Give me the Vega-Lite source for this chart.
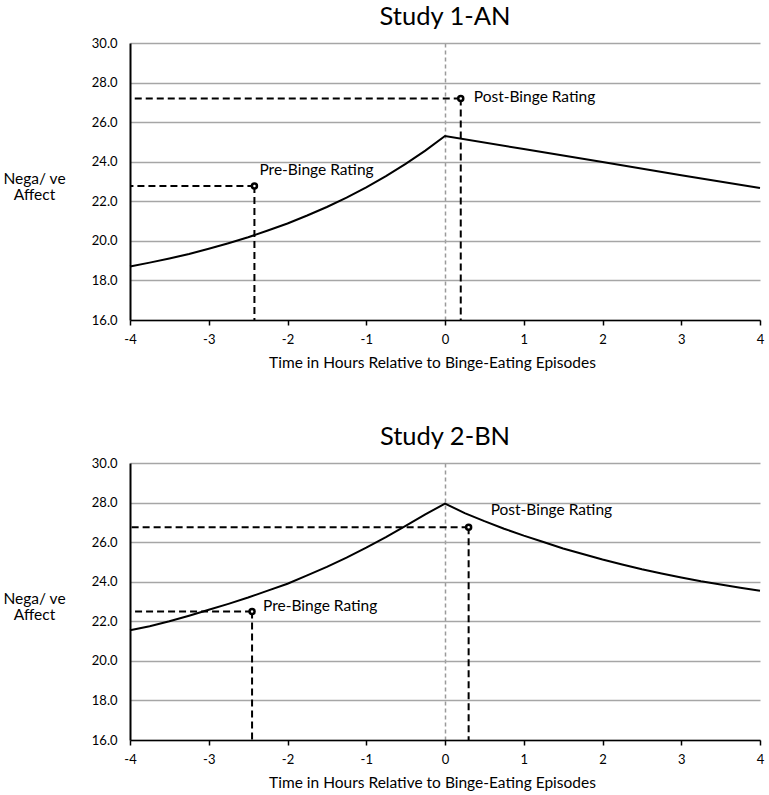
{
  "$schema": "https://vega.github.io/schema/vega-lite/v6.json",
  "padding": {"left": 2, "top": 4, "right": 5, "bottom": 5},
  "background": "white",
  "config": {
    "font": "Lato",
    "view": {"stroke": null},
    "title": {"font": "Lato", "fontSize": 25.5, "fontWeight": "normal", "color": "black", "offset": 7},
    "axisX": {
      "grid": true, "gridColor": "#9a9a9a", "gridDash": [4, 3], "gridWidth": 1.5,
      "domainColor": "black", "domainWidth": 1.5, "tickColor": "black", "tickWidth": 1.5,
      "tickSize": 5, "labelPadding": 8, "labelFontSize": 13, "labelColor": "black", "labelFlush": false,
      "titleFontSize": 15.5, "titleFontWeight": "normal", "titleColor": "black", "titlePadding": 9, "titleX": 302
    },
    "axisY": {
      "grid": true, "gridColor": "#a6a6a6", "gridWidth": 1.5, "domainColor": "black", "domainWidth": 2,
      "ticks": false, "labelPadding": 13, "labelFontSize": 13, "labelColor": "black", "labelOverlap": false,
      "titleAngle": 0, "titleX": -96, "titleY": 135, "titleAlign": "center", "titleBaseline": "middle",
      "titleFontSize": 15.5, "titleFontWeight": "normal", "titleColor": "black", "titleLineHeight": 16.5
    }
  },
  "datasets": {
    "curve": [
      {"panel": "AN", "time": -4, "affect": 18.70},
      {"panel": "AN", "time": -3.75, "affect": 18.90},
      {"panel": "AN", "time": -3.5, "affect": 19.11},
      {"panel": "AN", "time": -3.25, "affect": 19.34},
      {"panel": "AN", "time": -3, "affect": 19.60},
      {"panel": "AN", "time": -2.75, "affect": 19.88},
      {"panel": "AN", "time": -2.5, "affect": 20.18},
      {"panel": "AN", "time": -2.25, "affect": 20.52},
      {"panel": "AN", "time": -2, "affect": 20.88},
      {"panel": "AN", "time": -1.75, "affect": 21.28},
      {"panel": "AN", "time": -1.5, "affect": 21.71},
      {"panel": "AN", "time": -1.25, "affect": 22.18},
      {"panel": "AN", "time": -1, "affect": 22.70},
      {"panel": "AN", "time": -0.75, "affect": 23.27},
      {"panel": "AN", "time": -0.5, "affect": 23.89},
      {"panel": "AN", "time": -0.25, "affect": 24.56},
      {"panel": "AN", "time": 0, "affect": 25.30},
      {"panel": "AN", "time": 1, "affect": 24.64},
      {"panel": "AN", "time": 2, "affect": 23.98},
      {"panel": "AN", "time": 3, "affect": 23.32},
      {"panel": "AN", "time": 4, "affect": 22.67},
      {"panel": "BN", "time": -4, "affect": 21.55},
      {"panel": "BN", "time": -3.75, "affect": 21.75},
      {"panel": "BN", "time": -3.5, "affect": 22.00},
      {"panel": "BN", "time": -3.25, "affect": 22.28},
      {"panel": "BN", "time": -3, "affect": 22.58},
      {"panel": "BN", "time": -2.75, "affect": 22.88},
      {"panel": "BN", "time": -2.5, "affect": 23.20},
      {"panel": "BN", "time": -2.25, "affect": 23.55},
      {"panel": "BN", "time": -2, "affect": 23.90},
      {"panel": "BN", "time": -1.75, "affect": 24.32},
      {"panel": "BN", "time": -1.5, "affect": 24.75},
      {"panel": "BN", "time": -1.25, "affect": 25.22},
      {"panel": "BN", "time": -1, "affect": 25.72},
      {"panel": "BN", "time": -0.75, "affect": 26.25},
      {"panel": "BN", "time": -0.5, "affect": 26.82},
      {"panel": "BN", "time": -0.25, "affect": 27.40},
      {"panel": "BN", "time": 0, "affect": 27.95},
      {"panel": "BN", "time": 0.25, "affect": 27.47},
      {"panel": "BN", "time": 0.5, "affect": 27.06},
      {"panel": "BN", "time": 0.75, "affect": 26.68},
      {"panel": "BN", "time": 1, "affect": 26.33},
      {"panel": "BN", "time": 1.25, "affect": 26.01},
      {"panel": "BN", "time": 1.5, "affect": 25.68},
      {"panel": "BN", "time": 1.75, "affect": 25.40},
      {"panel": "BN", "time": 2, "affect": 25.12},
      {"panel": "BN", "time": 2.25, "affect": 24.87},
      {"panel": "BN", "time": 2.5, "affect": 24.63},
      {"panel": "BN", "time": 2.75, "affect": 24.42},
      {"panel": "BN", "time": 3, "affect": 24.21},
      {"panel": "BN", "time": 3.25, "affect": 24.02},
      {"panel": "BN", "time": 3.5, "affect": 23.86},
      {"panel": "BN", "time": 3.75, "affect": 23.70},
      {"panel": "BN", "time": 4, "affect": 23.54}
    ],
    "ratings": [
      {"panel": "AN", "type": "pre", "label": "Pre-Binge Rating", "time": -2.42, "affect": 22.77},
      {"panel": "AN", "type": "post", "label": "Post-Binge Rating", "time": 0.2, "affect": 27.2},
      {"panel": "BN", "type": "pre", "label": "Pre-Binge Rating", "time": -2.45, "affect": 22.5},
      {"panel": "BN", "type": "post", "label": "Post-Binge Rating", "time": 0.3, "affect": 26.75}
    ]
  },
  "spacing": 53,
  "vconcat": [
    {
      "width": 630, "height": 277,
      "title": "Study 1-AN",
      "encoding": {
        "x": {"field": "time", "type": "quantitative", "scale": {"domain": [-4, 4], "nice": false},
              "axis": {"title": "Time in Hours Relative to Binge-Eating Episodes", "values": [-4, -3, -2, -1, 0, 1, 2, 3, 4], "labelExpr": "'' + datum.value",
                       "gridOpacity": {"condition": {"test": "datum.value === 0", "value": 1}, "value": 0}}},
        "y": {"field": "affect", "type": "quantitative", "scale": {"domain": [16, 30], "nice": false, "zero": false},
              "axis": {"title": ["Nega/ ve", "Affect"], "values": [16, 18, 20, 22, 24, 26, 28, 30], "format": ".1f"}}
      },
      "layer": [
        {
          "data": {"name": "curve"},
          "transform": [{"filter": "datum.panel == 'AN'"}],
          "mark": {"type": "line", "color": "black", "strokeWidth": 2},
          "encoding": {}
        },
        {
          "data": {"name": "ratings"},
          "transform": [{"filter": "datum.panel == 'AN'"}],
          "layer": [
            {
              "mark": {"type": "rule", "color": "black", "strokeDash": [7, 4], "strokeWidth": 2},
              "encoding": {"x2": {"datum": -4}}
            },
            {
              "mark": {"type": "rule", "color": "black", "strokeDash": [7, 4], "strokeWidth": 2},
              "encoding": {"y2": {"datum": 16}}
            },
            {
              "mark": {"type": "point", "shape": "circle", "filled": true, "fill": "white", "stroke": "black", "strokeWidth": 2.5, "size": 25, "opacity": 1},
              "encoding": {}
            },
            {
              "transform": [{"filter": "datum.type == 'pre'"}],
              "mark": {"type": "text", "align": "left", "baseline": "middle", "fontSize": 15.5, "color": "black", "dx": 5, "dy": -16},
              "encoding": {"text": {"field": "label"}}
            },
            {
              "transform": [{"filter": "datum.type == 'post'"}],
              "mark": {"type": "text", "align": "left", "baseline": "middle", "fontSize": 15.5, "color": "black", "dx": 13, "dy": -1},
              "encoding": {"text": {"field": "label"}}
            }
          ]
        }
      ]
    },
    {
      "width": 630, "height": 277,
      "title": "Study 2-BN",
      "encoding": {
        "x": {"field": "time", "type": "quantitative", "scale": {"domain": [-4, 4], "nice": false},
              "axis": {"title": "Time in Hours Relative to Binge-Eating Episodes", "values": [-4, -3, -2, -1, 0, 1, 2, 3, 4], "labelExpr": "'' + datum.value",
                       "gridOpacity": {"condition": {"test": "datum.value === 0", "value": 1}, "value": 0}}},
        "y": {"field": "affect", "type": "quantitative", "scale": {"domain": [16, 30], "nice": false, "zero": false},
              "axis": {"title": ["Nega/ ve", "Affect"], "values": [16, 18, 20, 22, 24, 26, 28, 30], "format": ".1f"}}
      },
      "layer": [
        {
          "data": {"name": "curve"},
          "transform": [{"filter": "datum.panel == 'BN'"}],
          "mark": {"type": "line", "color": "black", "strokeWidth": 2},
          "encoding": {}
        },
        {
          "data": {"name": "ratings"},
          "transform": [{"filter": "datum.panel == 'BN'"}],
          "layer": [
            {
              "mark": {"type": "rule", "color": "black", "strokeDash": [7, 4], "strokeWidth": 2},
              "encoding": {"x2": {"datum": -4}}
            },
            {
              "mark": {"type": "rule", "color": "black", "strokeDash": [7, 4], "strokeWidth": 2},
              "encoding": {"y2": {"datum": 16}}
            },
            {
              "mark": {"type": "point", "shape": "circle", "filled": true, "fill": "white", "stroke": "black", "strokeWidth": 2.5, "size": 25, "opacity": 1},
              "encoding": {}
            },
            {
              "transform": [{"filter": "datum.type == 'pre'"}],
              "mark": {"type": "text", "align": "left", "baseline": "middle", "fontSize": 15.5, "color": "black", "dx": 11, "dy": -5},
              "encoding": {"text": {"field": "label"}}
            },
            {
              "transform": [{"filter": "datum.type == 'post'"}],
              "mark": {"type": "text", "align": "left", "baseline": "middle", "fontSize": 15.5, "color": "black", "dx": 22, "dy": -17},
              "encoding": {"text": {"field": "label"}}
            }
          ]
        }
      ]
    }
  ]
}
